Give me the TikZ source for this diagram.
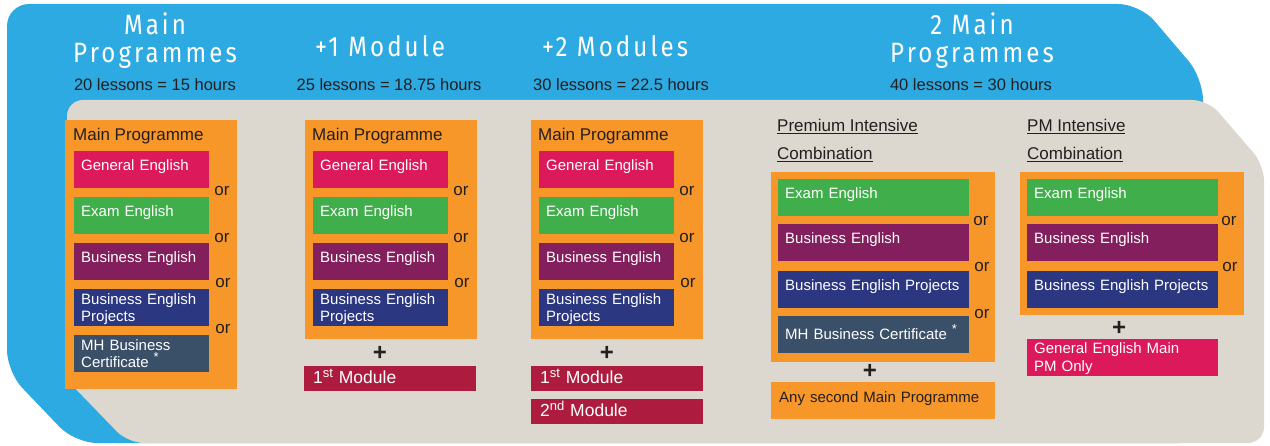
\documentclass[tikz,border=0pt]{standalone}
\usepackage{fontspec}
\setmainfont{Liberation Sans}
\newfontfamily\headfont[LetterSpace=11,FakeStretch=0.86]{Fira Sans}
\usepackage{tikz}

\definecolor{skyblue}{HTML}{2DAAE1}
\definecolor{sand}{HTML}{DCD8CF}
\definecolor{tangerine}{HTML}{F7972A}
\definecolor{rasp}{HTML}{DB195B}
\definecolor{leaf}{HTML}{40AF4B}
\definecolor{plum}{HTML}{831F5C}
\definecolor{navy}{HTML}{2C3781}
\definecolor{slate}{HTML}{3A5068}
\definecolor{wine}{HTML}{AD1C3E}
\definecolor{ink}{HTML}{231F20}

\newcommand{\upper}[1]{\raisebox{5.5pt}{\fontsize{13}{13}\selectfont #1}}

\begin{document}
\begin{tikzpicture}[x=1pt, y=-1pt,
        title/.style = {text=white, font=\headfont\fontsize{28}{28}\selectfont, align=center, anchor=base, inner sep=0pt},
        hours/.style = {text=ink, font=\fontsize{16.5}{18}\selectfont, anchor=base, inner sep=0pt},
        heading/.style = {text=ink, font=\fontsize{17}{28}\selectfont, align=left, anchor=base west, inner sep=0pt},
        panel/.style = {fill=tangerine, anchor=north west, inner sep=0pt, minimum width=#1},
        course/.style = {fill=#1, text=white, anchor=north west, inner xsep=7pt, inner ysep=0pt, align=left,
                         font=\fontsize{15}{17}\selectfont, text height=19pt, text depth=18pt},
        twoline/.style = {text height=15pt, text depth=22pt},
        narrow/.style = {text width=121pt},
        wide/.style = {text width=177pt},
        module/.style = {fill=wine, text=white, anchor=north west, inner xsep=9pt, inner ysep=0pt, align=left,
                         text width=154pt, font=\fontsize{17.5}{18}\selectfont, text height=17pt, text depth=8pt},
        orword/.style = {text=ink, font=\fontsize{17}{17}\selectfont, anchor=base, inner sep=0pt},
        plussign/.style = {text=ink, font=\fontsize{24}{24}\bfseries\selectfont, inner sep=0pt}
        ]

        \useasboundingbox (0,0) rectangle (1270,446);

        % backgrounds
        \fill[skyblue, rounded corners=22pt] (7,4) -- (1140,4) -- (1203,78) -- (1203,443) -- (75,443) -- (7,372) -- cycle;
        \fill[sand, rounded corners=16pt] (67,100) -- (1208,100) -- (1264,165) -- (1264,443) -- (128,443) -- (67,380) -- cycle;

        % column titles
        \node (t1) at (155,63)  [title] {Main\\Programmes};
        \node (t2) at (380,57)  [title] {+1 Module};
        \node (t3) at (615,57)  [title] {+2 Modules};
        \node (t4) at (972,63)  [title] {2 Main\\Programmes};
        \node (h1) at (155,91)  [hours] {20 lessons = 15 hours};
        \node (h2) at (389,91)  [hours] {25 lessons = 18.75 hours};
        \node (h3) at (621,91)  [hours] {30 lessons = 22.5 hours};
        \node (h4) at (971,91)  [hours] {40 lessons = 30 hours};

        % main programme
        \node (mp1) at (65,120) [panel=172pt, minimum height=269pt] {};
        \node (l1) at (73,141)  [heading] {Main Programme};
        \node (ge1) at (74,151) [course=rasp, narrow] {General English};
        \node (ee1) at (74,197) [course=leaf, narrow] {Exam English};
        \node (be1) at (74,243) [course=plum, narrow] {Business English};
        \node (bp1) at (74,289) [course=navy, narrow, twoline] {Business English\\Projects};
        \node (mh1) at (74,335) [course=slate, narrow, twoline] {MH Business\\Certificate \upper{*}};
        \node (o11) at (222,196) [orword] {or};
        \node (o12) at (222,243) [orword] {or};
        \node (o13) at (223,288) [orword] {or};
        \node (o14) at (223,334) [orword] {or};

        % +1 module
        \node (mp2) at (305,120) [panel=172pt, minimum height=219pt] {};
        \node (l2) at (312,141) [heading] {Main Programme};
        \node (ge2) at (313,151) [course=rasp, narrow] {General English};
        \node (ee2) at (313,197) [course=leaf, narrow] {Exam English};
        \node (be2) at (313,243) [course=plum, narrow] {Business English};
        \node (bp2) at (313,289) [course=navy, narrow, twoline] {Business English\\Projects};
        \node (o21) at (461,196) [orword] {or};
        \node (o22) at (461,243) [orword] {or};
        \node (o23) at (462,288) [orword] {or};
        \node (p2) at (380,353) [plussign] {+};
        \node (m12) at (304,366) [module] {1\upper{st} Module};

        % +2 modules
        \node (mp3) at (531,120) [panel=172pt, minimum height=219pt] {};
        \node (l3) at (538,141) [heading] {Main Programme};
        \node (ge3) at (539,151) [course=rasp, narrow] {General English};
        \node (ee3) at (539,197) [course=leaf, narrow] {Exam English};
        \node (be3) at (539,243) [course=plum, narrow] {Business English};
        \node (bp3) at (539,289) [course=navy, narrow, twoline] {Business English\\Projects};
        \node (o31) at (687,196) [orword] {or};
        \node (o32) at (687,243) [orword] {or};
        \node (o33) at (688,288) [orword] {or};
        \node (p3) at (607,353) [plussign] {+};
        \node (m13) at (531,366) [module] {1\upper{st} Module};
        \node (m23) at (531,399) [module] {2\upper{nd} Module};

        % premium intensive combination
        \node (l4) at (777,160) [heading] {\underline{Premium Intensive}\\\underline{Combination}};
        \node (pic) at (771,172) [panel=224pt, minimum height=190pt] {};
        \node (ee4) at (778,179) [course=leaf, wide] {Exam English};
        \node (be4) at (778,224) [course=plum, wide] {Business English};
        \node (bp4) at (778,271) [course=navy, wide] {Business English Projects};
        \node (mh4) at (778,316) [course=slate, wide, text height=23pt, text depth=14pt] {MH Business Certificate \upper{*}};
        \node (o41) at (981,226) [orword] {or};
        \node (o42) at (982,272) [orword] {or};
        \node (o43) at (982,319) [orword] {or};
        \node (p4) at (870,371) [plussign] {+};
        \node (any4) at (771,382) [panel=224pt, inner xsep=8pt, text=ink, align=left, text width=208pt,
                                    font=\fontsize{15}{17}\selectfont, text height=20pt, text depth=17pt] {Any second Main Programme};

        % PM intensive combination
        \node (l5) at (1027,160) [heading] {\underline{PM Intensive}\\\underline{Combination}};
        \node (pmc) at (1020,172) [panel=224pt, minimum height=143pt] {};
        \node (ee5) at (1027,179) [course=leaf, wide] {Exam English};
        \node (be5) at (1027,224) [course=plum, wide] {Business English};
        \node (bp5) at (1027,271) [course=navy, wide] {Business English Projects};
        \node (o51) at (1229,226) [orword] {or};
        \node (o52) at (1230,272) [orword] {or};
        \node (p5) at (1119,328) [plussign] {+};
        \node (gm5) at (1027,339) [course=rasp, wide, font=\fontsize{15}{18}\selectfont, text height=14pt, text depth=23pt] {General English Main\\PM Only};

    \end{tikzpicture}
\end{document}
